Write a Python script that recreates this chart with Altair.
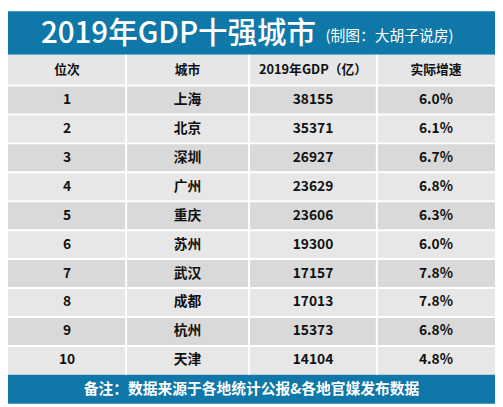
import altair as alt
import pandas as pd

# ---------------- data ----------------
ranks = ["1", "2", "3", "4", "5", "6", "7", "8", "9", "10"]
cities = ["上海", "北京", "深圳", "广州", "重庆", "苏州", "武汉", "成都", "杭州", "天津"]
gdp = ["38155", "35371", "26927", "23629", "23606", "19300", "17157", "17013", "15373", "14104"]
growth = ["6.0%", "6.1%", "6.7%", "6.8%", "6.3%", "6.0%", "7.8%", "7.8%", "6.8%", "4.8%"]
headers = ["位次", "城市", "2019年GDP（亿）", "实际增速"]
title_text = "2019年GDP十强城市"
subtitle_text = "(制图：大胡子说房)"
footer_text = "备注：数据来源于各地统计公报&各地官媒发布数据"

# ---------------- layout ----------------
W_REF, H_REF = 503, 407
col_edges = [0, 122, 249, 381, 503]
title_h, header_h, row_h, footer_h = 45, 32, 30, 30
BLUE = "#0f78a8"
HEADER_BG = "#e6e6e6"
ROW_DARK = "#d9d9d9"
ROW_LIGHT = "#e7e7e7"
FONT = "Noto Sans CJK SC"

n = len(ranks)
row_tops = [title_h + header_h + i * row_h for i in range(n)]
footer_top = title_h + header_h + n * row_h

bg = [dict(x=0, x2=W_REF, y=0, y2=title_h, fill=BLUE),
      dict(x=0, x2=W_REF, y=title_h, y2=title_h + header_h, fill=HEADER_BG)]
for i, t in enumerate(row_tops):
    bg.append(dict(x=0, x2=W_REF, y=t, y2=t + row_h, fill=ROW_DARK if i % 2 == 0 else ROW_LIGHT))
bg.append(dict(x=0, x2=W_REF, y=footer_top, y2=H_REF, fill=BLUE))
bg_df = pd.DataFrame(bg)

vlines = pd.DataFrame([dict(x=e, x2=e, y=title_h, y2=footer_top) for e in col_edges[1:-1]])
hlines = pd.DataFrame([dict(x=0, x2=W_REF, y=t, y2=t) for t in row_tops])

centers = [(col_edges[i] + col_edges[i + 1]) / 2 for i in range(4)]
head_df = pd.DataFrame(dict(x=centers, y=[title_h + header_h / 2] * 4, t=headers))
cells = []
for i in range(n):
    yc = row_tops[i] + row_h / 2
    for j, v in enumerate([ranks[i], cities[i], gdp[i], growth[i]]):
        cells.append(dict(x=centers[j], y=yc, t=v))
cell_df = pd.DataFrame(cells)

title_df = pd.DataFrame([dict(x=34, y=title_h / 2 + 1, t=title_text)])
sub_df = pd.DataFrame([dict(x=328, y=title_h / 2 + 3, t=subtitle_text)])
foot_df = pd.DataFrame([dict(x=W_REF / 2, y=footer_top + footer_h / 2, t=footer_text)])

xs = alt.Scale(domain=[0, W_REF], nice=False, zero=False)
ys = alt.Scale(domain=[0, H_REF], nice=False, zero=False, reverse=True)
X = alt.X("x:Q", scale=xs, axis=None)
X2 = alt.X2("x2:Q")
Y = alt.Y("y:Q", scale=ys, axis=None)
Y2 = alt.Y2("y2:Q")

rects = alt.Chart(bg_df).mark_rect().encode(x=X, x2=X2, y=Y, y2=Y2,
                                            color=alt.Color("fill:N", scale=None))
vr = alt.Chart(vlines).mark_rule(color="white", strokeWidth=2).encode(x=X, y=Y, y2=Y2)
hr = alt.Chart(hlines).mark_rule(color="white", strokeWidth=2).encode(x=X, x2=X2, y=Y)

def txt(df, size, color, weight="bold", align="center"):
    return alt.Chart(df).mark_text(font=FONT, fontSize=size, color=color, fontWeight=weight,
                                   align=align, baseline="middle").encode(x=X, y=Y, text="t:N")

layers = [
    rects, vr, hr,
    txt(head_df, 13, "#111111"),
    txt(cell_df, 14, "#111111"),
    txt(title_df, 30, "white", weight=500, align="left"),
    txt(sub_df, 15, "white", weight="normal", align="left"),
    txt(foot_df, 15, "white"),
]

chart = alt.layer(*layers).properties(
    width=495, height=399, padding=0, autosize="none", background="white"
).configure_view(stroke=None)

chart.save("out.html", embed_options={"renderer": "svg", "actions": False})
